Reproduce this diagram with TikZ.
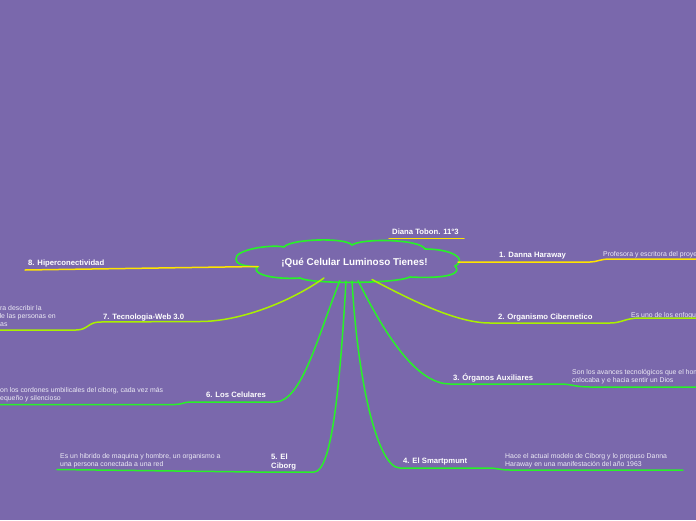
\documentclass[tikz,border=0pt]{standalone}
\usepackage{fontspec}
\setmainfont{Liberation Sans}
\definecolor{bg}{RGB}{122,104,172}
\definecolor{cyel}{RGB}{255,228,0}
\definecolor{cyg}{RGB}{170,240,0}
\definecolor{cgr}{RGB}{40,242,40}
\definecolor{descgray}{RGB}{236,234,245}
\begin{document}
\begin{tikzpicture}[x=1pt,y=-1pt,
  lbl/.style={text=white,font=\bfseries\fontsize{7.7}{9}\selectfont,inner sep=0pt,anchor=base west,align=left},
  desc/.style={text=descgray,font=\fontsize{6.9}{8.2}\selectfont,inner sep=0pt,anchor=north west,align=left},
  branch/.style={line width=1.5pt,line cap=round}]
\fill[bg] (0,0) rectangle (696,520);
\useasboundingbox (0,0) rectangle (696,520);
\clip (0,0) rectangle (696,520);
% central cloud
\draw[cgr,line width=1.6pt] (236,259) .. controls (234,250) and (270,244) .. (284,247)
  .. controls (290,239) and (345,237) .. (352,245)
  .. controls (362,238) and (420,239) .. (425,249)
  .. controls (452,249) and (468,259) .. (455,266)
  .. controls (462,273) and (450,279) .. (410,277)
  .. controls (395,284) and (310,284) .. (300,278)
  .. controls (268,280) and (250,272) .. (258,267)
  .. controls (240,266) and (236,263) .. (236,259) -- cycle;
\node[text=white,font=\bfseries\fontsize{9.9}{11}\selectfont,inner sep=0pt] (root) at (354.5,262.5) {¡Qué Celular Luminoso Tienes!};
% anchor points on cloud
\coordinate (c1) at (458,262);
\coordinate (c8) at (258,266.5);
\coordinate (c7) at (324,278);
\coordinate (c6) at (340,280.5);
\coordinate (c5) at (346,281);
\coordinate (c4) at (352,281);
\coordinate (c3) at (358,280.5);
\coordinate (c2) at (372,279.5);
% Diana
\node[lbl] (diana) at (392,234) {Diana Tobon. 11°3};
\coordinate (dl) at (389,238.5);
\coordinate (dr) at (464,238.5);
\draw[branch,cyel] (dl) -- (dr);
% 1
\node[lbl] (l1) at (499,257) {1. Danna Haraway};
\node[desc] (d1) at (603,251) {Profesora y escritora del proyecto};
\coordinate (e1a) at (590,262);
\coordinate (e1b) at (700,259);
\draw[branch,cyel] (c1) -- (e1a) .. controls (597,262) and (600,259) .. (610,259) -- (e1b);
% 8
\node[lbl] (l8) at (28,265) {8. Hiperconectividad};
\coordinate (e8) at (25,270);
\draw[branch,cyel] (c8) -- (e8);
% 7
\node[lbl] (l7) at (103,319) {7. Tecnologia-Web 3.0};
\node[desc] (d7) at (0,305) {ra describir la\\\hspace*{-2.8pt}de las personas en\\as};
\coordinate (e7a) at (200,321.5);
\coordinate (e7b) at (-5,330);
\draw[branch,cyg] (c7) .. controls (290,302) and (240,321.5) .. (e7a) -- (100,322)
  .. controls (88,322) and (88,330) .. (76,330) -- (e7b);
% 2
\node[lbl] (l2) at (498,319) {2. Organismo Cibernetico};
\node[desc] (d2) at (631,312) {Es uno de los enfoques};
\coordinate (e2a) at (490,323);
\coordinate (e2b) at (700,318);
\draw[branch,cyg] (c2) .. controls (420,305) and (460,323) .. (e2a) -- (610,323)
  .. controls (622,323) and (625,318) .. (640,318) -- (e2b);
% 3
\node[lbl] (l3) at (453,380) {3. Órganos Auxiliares};
\node[desc] (d3) at (572,369) {Son los avances tecnológicos que el hombre\\colocaba y e hacia sentir un Dios};
\coordinate (e3a) at (450,384);
\coordinate (e3b) at (700,387);
\draw[branch,cgr] (c3) .. controls (390,345) and (420,384) .. (e3a) -- (560,384)
  .. controls (572,384) and (575,387) .. (590,387) -- (e3b);
% 4
\node[lbl] (l4) at (403,463) {4. El Smartpmunt};
\node[desc] (d4) at (505,453) {Hace el actual modelo de Ciborg y lo propuso Danna\\Haraway en una manifestación del año 1963};
\coordinate (e4a) at (400,468);
\coordinate (e4b) at (683,470);
\draw[branch,cgr] (c4) .. controls (358,385) and (378,468) .. (e4a) -- (490,468)
  .. controls (496,468) and (500,470) .. (510,470) -- (e4b);
% 5
\node[lbl] (l5) at (271,468) {5. El\\Ciborg};
\node[desc] (d5) at (60,453) {Es un hibrido de maquina y hombre, un organismo a\\una persona conectada a una red};
\coordinate (e5a) at (314,472);
\coordinate (e5b) at (57,469.5);
\draw[branch,cgr] (c5) .. controls (340,385) and (332,472) .. (e5a) -- (255,472) -- (e5b);
% 6
\node[lbl] (l6) at (206,397) {6. Los Celulares};
\node[desc] (d6) at (0,387) {on los cordones umbilicales del ciborg, cada vez más\\equeño y silencioso};
\coordinate (e6a) at (275,402);
\coordinate (e6b) at (-5,404.5);
\draw[branch,cgr] (c6) .. controls (318,335) and (302,402) .. (e6a) -- (190,402)
  .. controls (184,402) and (182,404.5) .. (175,404.5) -- (e6b);
\end{tikzpicture}
\end{document}
